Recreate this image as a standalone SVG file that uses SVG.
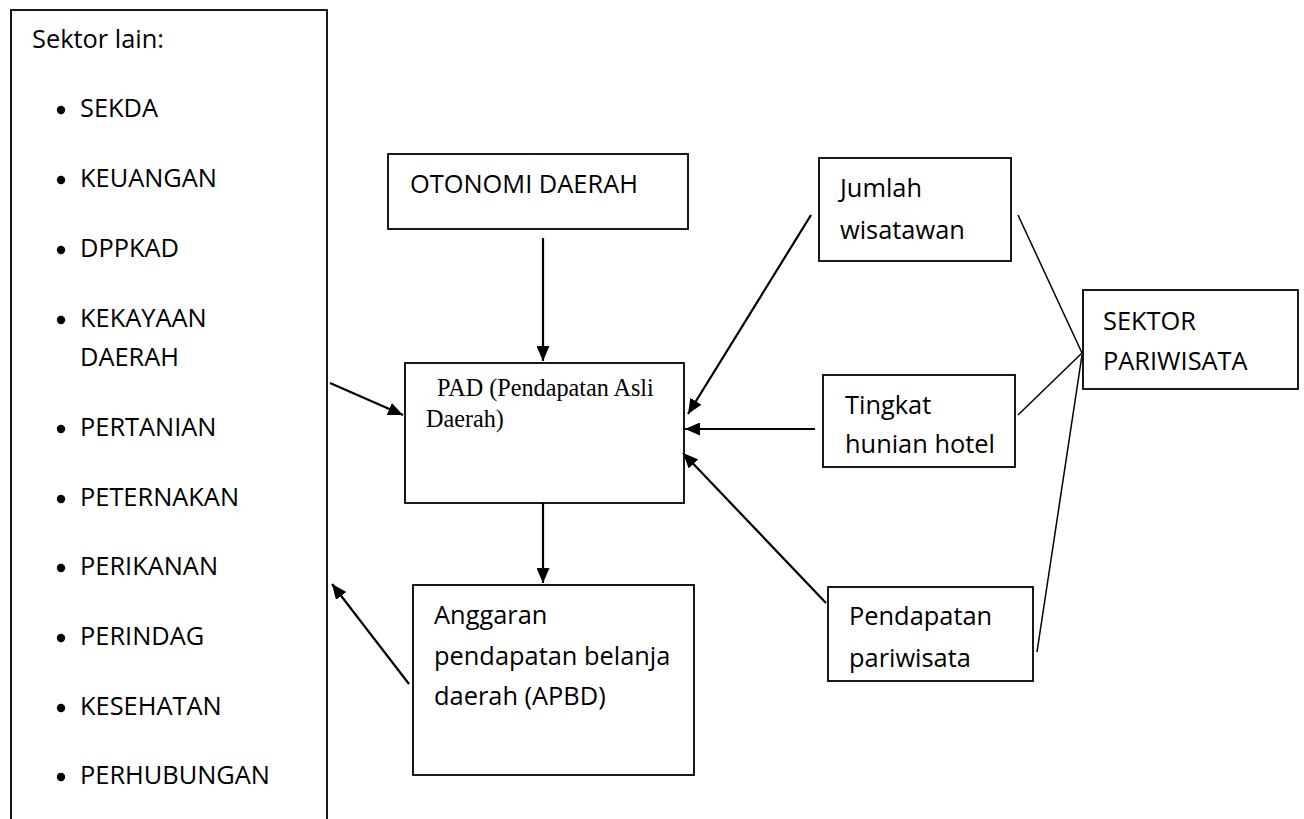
<svg xmlns="http://www.w3.org/2000/svg" width="1304" height="819" viewBox="0 0 1304 819">
  <style>
    .box { fill: #fff; stroke: #000; stroke-width: 1.8; }
    .t { font-family: "Open Sans", "Liberation Sans", sans-serif; font-size: 25.4px; fill: #000; }
    .s { font-family: "Liberation Serif", "Times New Roman", serif; font-size: 24.2px; fill: #000; }
    .arr { stroke: #000; stroke-width: 2.2; fill: none; marker-end: url(#ah); }
    .ln { stroke: #000; stroke-width: 1.5; fill: none; }
  </style>
  <defs>
    <marker id="ah" viewBox="0 0 15 13" refX="15" refY="6.5" markerWidth="15" markerHeight="13" markerUnits="userSpaceOnUse" orient="auto">
      <path d="M0,0 L15,6.5 L0,13 z" fill="#000"/>
    </marker>
  </defs>
  <rect width="1304" height="819" fill="#fff"/>

  <g id="sektor-lain">
    <rect class="box" x="11" y="10" width="316" height="830"/>
    <text class="t" x="32" y="48">Sektor lain:</text>
    <g fill="#000">
      <circle cx="61" cy="110" r="4.2"/>
      <circle cx="61" cy="180" r="4.2"/>
      <circle cx="61" cy="250" r="4.2"/>
      <circle cx="61" cy="320" r="4.2"/>
      <circle cx="61" cy="429" r="4.2"/>
      <circle cx="61" cy="499" r="4.2"/>
      <circle cx="61" cy="568" r="4.2"/>
      <circle cx="61" cy="638" r="4.2"/>
      <circle cx="61" cy="708" r="4.2"/>
      <circle cx="61" cy="777" r="4.2"/>
    </g>
    <text class="t" x="80" y="117">SEKDA</text>
    <text class="t" x="80" y="187">KEUANGAN</text>
    <text class="t" x="80" y="257">DPPKAD</text>
    <text class="t" x="80" y="327">KEKAYAAN</text>
    <text class="t" x="80" y="366">DAERAH</text>
    <text class="t" x="80" y="436">PERTANIAN</text>
    <text class="t" x="80" y="506">PETERNAKAN</text>
    <text class="t" x="80" y="575">PERIKANAN</text>
    <text class="t" x="80" y="645">PERINDAG</text>
    <text class="t" x="80" y="715">KESEHATAN</text>
    <text class="t" x="80" y="784">PERHUBUNGAN</text>
  </g>

  <g id="otonomi">
    <rect class="box" x="388" y="154" width="300" height="75"/>
    <text class="t" x="410" y="193">OTONOMI DAERAH</text>
  </g>

  <g id="pad">
    <rect class="box" x="405" y="363" width="279" height="140"/>
    <text class="s" x="437" y="396">PAD (Pendapatan Asli</text>
    <text class="s" x="426" y="427">Daerah)</text>
  </g>

  <g id="apbd">
    <rect class="box" x="413" y="585" width="281" height="190"/>
    <text class="t" x="434" y="624">Anggaran</text>
    <text class="t" x="434" y="665">pendapatan belanja</text>
    <text class="t" x="434" y="705">daerah (APBD)</text>
  </g>

  <g id="jumlah">
    <rect class="box" x="819" y="158" width="192" height="103"/>
    <text class="t" x="840" y="197">Jumlah</text>
    <text class="t" x="840" y="239">wisatawan</text>
  </g>

  <g id="tingkat">
    <rect class="box" x="823" y="375" width="192" height="92"/>
    <text class="t" x="845" y="414">Tingkat</text>
    <text class="t" x="845" y="453">hunian hotel</text>
  </g>

  <g id="pendapatan">
    <rect class="box" x="828" y="587" width="205" height="94"/>
    <text class="t" x="849" y="625">Pendapatan</text>
    <text class="t" x="849" y="667">pariwisata</text>
  </g>

  <g id="sektor-pariwisata">
    <rect class="box" x="1083" y="290" width="215" height="99"/>
    <text class="t" x="1103" y="330">SEKTOR</text>
    <text class="t" x="1103" y="370">PARIWISATA</text>
  </g>

  <g id="connectors">
    <line class="arr" x1="543" y1="238" x2="543" y2="361"/>
    <line class="arr" x1="330" y1="383" x2="403" y2="415"/>
    <line class="arr" x1="543" y1="503" x2="543" y2="583"/>
    <line class="arr" x1="409" y1="684" x2="332" y2="584"/>
    <line class="arr" x1="811" y1="215" x2="688" y2="414"/>
    <line class="arr" x1="815" y1="429" x2="685" y2="429"/>
    <line class="arr" x1="826" y1="603" x2="683" y2="453"/>
    <line class="ln" x1="1018" y1="215" x2="1082" y2="353"/>
    <line class="ln" x1="1018" y1="415" x2="1082" y2="353"/>
    <line class="ln" x1="1037" y1="652" x2="1082" y2="355"/>
  </g>
</svg>
